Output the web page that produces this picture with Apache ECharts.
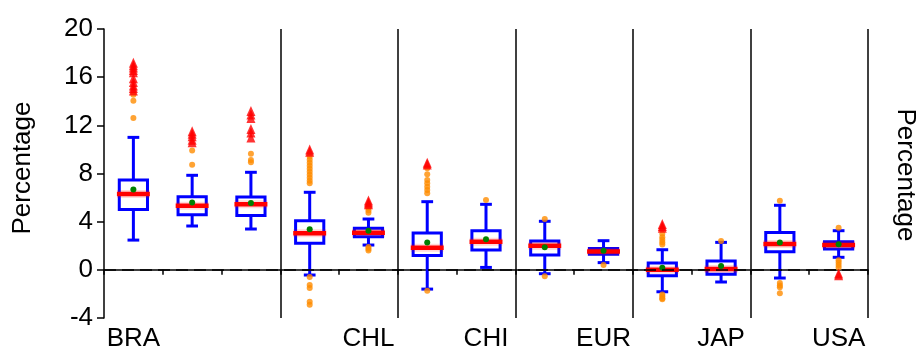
<!DOCTYPE html>
<html>
<head>
<meta charset="utf-8">
<title>Percentage by economy</title>
<script src="https://cdn.jsdelivr.net/npm/echarts@6/dist/echarts.min.js"></script>
<style>
  html, body { margin: 0; padding: 0; background: #fff; }
  #chart { width: 917px; height: 352px; }
</style>
</head>
<body>
<div id="chart"></div>
<script>
// Slot labels along the x axis (13 slots, labelled groups)
const categories = ['BRA', '', '', '', 'CHL', '', 'CHI', '', 'EUR', '', 'JAP', '', 'USA'];

// Box statistics per slot
const boxLow  = [2.47, 3.64, 3.39, -0.43, 2.06, -1.60, 0.20, -0.32, 0.60, -1.82, -1.01, -0.68, 1.04];
const boxQ1   = [5.02, 4.58, 4.52,  2.20, 2.75,  1.20, 1.64,  1.23, 1.29, -0.49, -0.37,  1.50, 1.73];
const boxMed  = [6.30, 5.32, 5.44,  3.03, 3.08,  1.84, 2.33,  2.00, 1.53,  0.00,  0.07,  2.14, 2.06];
const boxQ3   = [7.46, 6.07, 6.05,  4.08, 3.45,  3.06, 3.25,  2.39, 1.78,  0.56,  0.73,  3.11, 2.33];
const boxHigh = [11.0, 7.85, 8.10,  6.44, 4.22,  5.66, 5.44,  4.03, 2.42,  1.67,  2.28,  5.36, 3.25];
const boxMean = [6.68, 5.60, 5.55,  3.36, 3.25,  2.28, 2.53,  1.87, 1.59,  0.18,  0.32,  2.28, 2.12];

// Mild outliers per slot (orange dots)
const mildOutliers = [
  [12.6, 14.05, 14.55],
  [8.73, 9.9],
  [8.93, 9.12, 9.64],
  [7.2, 7.4, 7.65, 7.9, 8.15, 8.4, 8.65, 8.9, 9.15, 9.4, -0.6, -1.25, -1.5, -2.65, -2.9],
  [4.75, 4.95, 5.15, 1.9, 1.75, 1.6],
  [6.35, 6.63, 6.9, 7.18, 7.46, 7.93, 8.43, -1.74],
  [5.8],
  [4.22, -0.54],
  [0.4],
  [2.1, 2.3, 2.5, 2.7, 3.0, -2.05, -2.2, -2.35, -2.45],
  [2.39],
  [5.74, -1.1, -1.3, -1.45, -1.95],
  [3.5, 0.8, 0.6, 0.4, 0.2]
];

// Extreme outliers per slot (red triangles)
const extremeOutliers = [
  [14.9, 15.1, 15.3, 15.6, 15.9, 16.4, 16.6, 16.8, 17.0, 17.2],
  [10.6, 10.8, 11.1, 11.3, 11.5],
  [11.0, 11.4, 11.7, 12.6, 12.9, 13.2],
  [9.8, 10.0],
  [5.45, 5.6, 5.75],
  [8.75, 8.9],
  [],
  [],
  [],
  [3.5, 3.65, 3.8],
  [],
  [],
  [-0.3, -0.45]
];

// Group separators (slot boundaries) and y ticks
const groupBoundaries = [3, 5, 7, 9, 11, 13];
const yMin = -4, yMax = 20, yStep = 4;

const FONT = 'Liberation Sans';
const BLUE = '#0000ff';

const boxData = categories.map((_, i) =>
  [i, boxLow[i], boxQ1[i], boxMed[i], boxQ3[i], boxHigh[i], boxMean[i]]);

const flatten = lists => lists.flatMap((vals, i) => vals.map(v => [i, v]));

function renderBox(params, api) {
  const slot = api.value(0);
  const band = api.size([1, 0])[0];
  const halfBox = band * 0.24;
  const halfCap = band * 0.10;
  const halfMed = band * 0.28;
  const x = api.coord([slot, 0])[0];
  const y = k => api.coord([slot, api.value(k)])[1];
  const yLow = y(1), yQ1 = y(2), yMed = y(3), yQ3 = y(4), yHigh = y(5), yMean = y(6);
  const stroke = { stroke: BLUE, lineWidth: 3, fill: null };
  return {
    type: 'group',
    children: [
      { type: 'line', shape: { x1: x, y1: yQ1, x2: x, y2: yLow }, style: stroke },
      { type: 'line', shape: { x1: x, y1: yQ3, x2: x, y2: yHigh }, style: stroke },
      { type: 'line', shape: { x1: x - halfCap, y1: yLow, x2: x + halfCap, y2: yLow }, style: stroke },
      { type: 'line', shape: { x1: x - halfCap, y1: yHigh, x2: x + halfCap, y2: yHigh }, style: stroke },
      { type: 'rect', shape: { x: x - halfBox, y: yQ3, width: halfBox * 2, height: yQ1 - yQ3 },
        style: { stroke: BLUE, lineWidth: 3, fill: null } },
      { type: 'line', shape: { x1: x - halfMed, y1: yMed, x2: x + halfMed, y2: yMed },
        style: { stroke: 'rgba(255,0,0,0.15)', lineWidth: 8 } },
      { type: 'line', shape: { x1: x - halfMed, y1: yMed, x2: x + halfMed, y2: yMed },
        style: { stroke: '#ff0000', lineWidth: 4.5 } },
      { type: 'circle', shape: { cx: x, cy: yMean, r: 3 }, style: { fill: '#008000' } }
    ]
  };
}

const chart = echarts.init(document.getElementById('chart'), null, { renderer: 'canvas' });

chart.setOption({
  animation: false,
  backgroundColor: '#fff',
  textStyle: { fontFamily: FONT },
  grid: { left: 104, right: 49, top: 29, bottom: 34, containLabel: false },
  xAxis: [
    {
      type: 'category',
      data: categories,
      boundaryGap: true,
      axisLine: { show: true, lineStyle: { color: '#000', width: 1.5 } },
      axisTick: { show: true, interval: 0, length: 5, lineStyle: { color: '#000', width: 1.5 } },
      axisLabel: { interval: 0, color: '#000', fontSize: 26, fontFamily: FONT, margin: 8 },
      splitLine: { show: false }
    },
    {
      type: 'value',
      min: 0, max: 13,
      show: false
    }
  ],
  yAxis: {
    type: 'value',
    min: yMin, max: yMax, interval: yStep,
    axisLine: { show: true, lineStyle: { color: '#000', width: 1.5 } },
    axisTick: { show: true, length: 7, lineStyle: { color: '#000', width: 1.5 } },
    axisLabel: { color: '#000', fontSize: 26, fontFamily: FONT, margin: 11 },
    splitLine: { show: false }
  },
  graphic: [
    { type: 'text', x: 23, y: 168, rotation: Math.PI / 2,
      style: { text: 'Percentage', font: '26px "Liberation Sans"', fill: '#000',
               align: 'center', verticalAlign: 'middle' } },
    { type: 'text', x: 905, y: 175, rotation: -Math.PI / 2,
      style: { text: 'Percentage', font: '26px "Liberation Sans"', fill: '#000',
               align: 'center', verticalAlign: 'middle' } }
  ],
  series: [
    {
      // group separators and the zero reference line
      type: 'line',
      xAxisIndex: 1,
      data: [],
      silent: true,
      markLine: {
        symbol: 'none',
        silent: true,
        label: { show: false },
        data: [
          ...groupBoundaries.map(b => ({ xAxis: b, lineStyle: { color: '#000', width: 1.5, type: 'solid' } })),
          { yAxis: 0, lineStyle: { color: '#000', width: 1.5, type: [12, 6] } }
        ]
      }
    },
    {
      type: 'custom',
      renderItem: renderBox,
      data: boxData,
      z: 3
    },
    {
      type: 'scatter',
      data: flatten(mildOutliers),
      symbol: 'circle',
      symbolSize: 6,
      itemStyle: { color: '#ff8c00' },
      z: 4
    },
    {
      type: 'scatter',
      data: flatten(extremeOutliers),
      symbol: 'triangle',
      symbolSize: [9, 10],
      itemStyle: { color: '#ff0000' },
      z: 5
    }
  ]
});
</script>
</body>
</html>
